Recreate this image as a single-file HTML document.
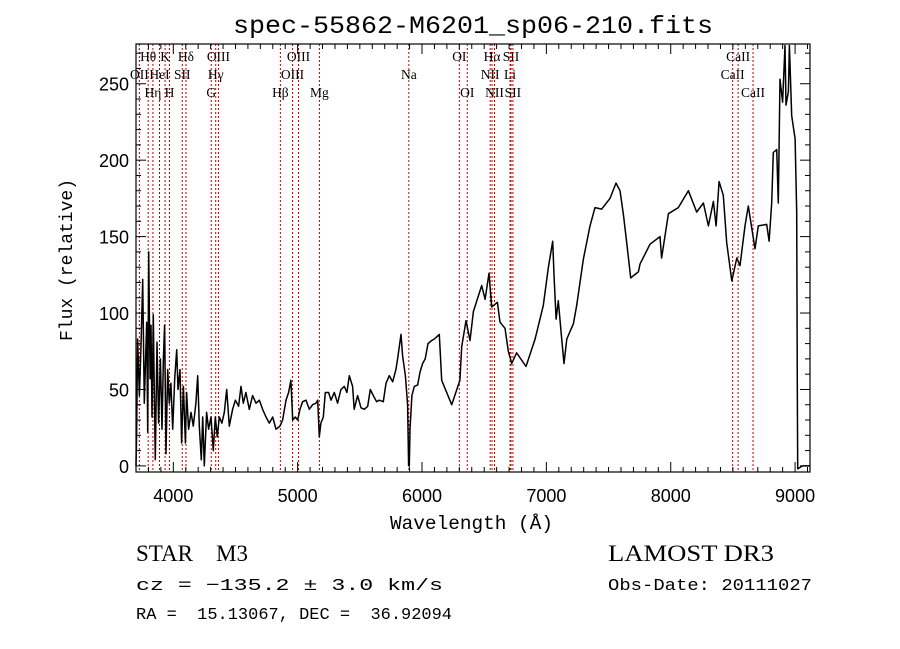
<!DOCTYPE html>
<html><head><meta charset="utf-8"><style>
body{margin:0;background:#fff;width:900px;height:649px;overflow:hidden}
svg{display:block}
.mono{font-family:"Liberation Mono",monospace}
.sans{font-family:"Liberation Sans",sans-serif}
.serif{font-family:"Liberation Serif",serif}
</style></head><body>
<svg id="chart" width="900" height="649" viewBox="0 0 900 649">
<text x="233" y="33" textLength="480" lengthAdjust="spacingAndGlyphs" class="mono" font-size="25">spec-55862-M6201_sp06-210.fits</text>
<g id="lines"></g>
<g id="spec"></g>
<rect x="136" y="44" width="674" height="428" fill="none" stroke="#000" stroke-width="1.2"/>
<g id="axes"></g>
<text x="390" y="529" textLength="163" lengthAdjust="spacingAndGlyphs" class="mono" font-size="19">Wavelength (Å)</text>
<text transform="translate(72,260) rotate(-90)" text-anchor="middle" class="mono" font-size="18">Flux (relative)</text>
<text x="136" y="561" textLength="112" lengthAdjust="spacingAndGlyphs" class="serif" font-size="23" xml:space="preserve">STAR    M3</text>
<text x="136" y="590" textLength="307" lengthAdjust="spacingAndGlyphs" class="mono" font-size="17">cz = −135.2 ± 3.0 km/s</text>
<text x="136" y="619" textLength="316" lengthAdjust="spacingAndGlyphs" class="mono" font-size="17" xml:space="preserve">RA =  15.13067, DEC =  36.92094</text>
<text x="608" y="561" textLength="166" lengthAdjust="spacingAndGlyphs" class="serif" font-size="23">LAMOST DR3</text>
<text x="608" y="590" textLength="204" lengthAdjust="spacingAndGlyphs" class="mono" font-size="17">Obs-Date: 20111027</text>
</svg>
<script>
const wave=[3700,3705,3713,3727,3740,3754,3767,3786,3794,3802,3813,3821,3829,3839,3847,3855,3869,3882,3896,3909,3920,3930,3941,3955,3968,3981,3995,4011,4027,4038,4054,4067,4081,4097,4107,4123,4142,4161,4182,4196,4209,4225,4236,4249,4268,4284,4303,4322,4338,4354,4370,4391,4410,4429,4450,4477,4499,4525,4544,4563,4584,4611,4638,4665,4692,4718,4745,4772,4799,4826,4858,4879,4906,4927,4946,4960,4981,5000,5019,5040,5067,5094,5120,5147,5161,5174,5187,5206,5222,5249,5268,5295,5321,5348,5375,5396,5415,5442,5455,5482,5509,5536,5563,5584,5608,5635,5656,5689,5710,5737,5764,5790,5804,5831,5844,5866,5884,5892,5898,5903,5919,5938,5965,5983,6005,6026,6048,6078,6099,6139,6158,6239,6305,6319,6354,6386,6413,6480,6507,6539,6560,6606,6627,6667,6694,6721,6761,6836,6909,6975,7016,7051,7061,7078,7096,7123,7142,7164,7217,7244,7297,7351,7391,7445,7512,7560,7592,7619,7646,7678,7740,7753,7833,7914,7927,7981,8061,8142,8209,8263,8303,8343,8365,8389,8423,8450,8491,8531,8557,8597,8624,8678,8704,8772,8791,8812,8825,8852,8865,8879,8900,8919,8927,8946,8954,8973,9000,9013,9018,9021,9060,9120];
const flux=[0,20,83,46,78,122,41,94,22,140,57,92,32,99,48,4,81,28,70,24,70,92,8,63,41,54,24,57,76,50,63,15,52,15,48,24,35,26,41,59,26,4,32,0,35,24,32,10,32,19,32,28,35,50,26,37,43,39,52,41,48,37,46,41,43,37,32,28,32,24,26,30,43,48,56,30,32,30,37,42,43,37,40,41,43,19,28,32,48,48,43,48,41,50,52,48,59,52,37,46,38,37,39,50,46,42,43,42,54,59,55,63,70,86,72,59,40,0,0,24,46,52,53,61,67,70,80,82,83,86,56,40,56,78,95,82,101,118,109,126,104,107,94,90,75,67,74,65,83,105,130,147,125,96,108,83,67,83,93,105,135,157,169,168,175,185,180,165,146,123,127,132,145,150,136,165,169,180,166,172,157,173,157,186,177,146,121,136,131,157,170,142,157,158,147,172,205,207,172,253,238,275,236,245,275,229,214,166,52,-2,0,0];
const lineWaves=[3727,3798,3836,3889,3934,3969,4072,4102,4305,4341,4363,4861,4959,5007,5175,5894,6300,6364,6548,6563,6583,6708,6716,6731,8498,8542,8662];
const lineNames=["OII","Hθ","Hη","HeI","K","H","SII","Hδ","G","Hγ","OIII","Hβ","OIII","OIII","Mg","Na","OI","OI","NII","Hα","NII","Li","SII","SII","CaII","CaII","CaII"];
const lineRows=[1,0,2,1,0,2,1,0,2,1,0,2,1,0,2,1,0,2,1,0,2,1,0,2,1,0,2];
const xTicks=[4000,5000,6000,7000,8000,9000];
const yTicks=[0,50,100,150,200,250];
const NS="http://www.w3.org/2000/svg";
const X0=3700,X1=9120,Y0=-4,Y1=276;
const L=136,R=810,T=44,B=472;
const sx=w=>L+(w-X0)/(X1-X0)*(R-L);
const sy=f=>B-(f-Y0)/(Y1-Y0)*(B-T);
const clampY=y=>Math.max(T,Math.min(B,y));
function mk(tag,attrs,parent){const e=document.createElementNS(NS,tag);for(const k in attrs)e.setAttribute(k,attrs[k]);parent.appendChild(e);return e;}
const lg=document.getElementById('lines');
lineWaves.forEach((w,i)=>{
  const x=sx(w);
  const l=mk('line',{x1:x,x2:x,y1:T,y2:B,stroke:'#c00000','stroke-width':1,'stroke-dasharray':'2,2'},lg);
  
  
  const t=mk('text',{x:x,y:61+lineRows[i]*18,'text-anchor':'middle','font-size':13.5,class:'serif'},lg);
  t.textContent=lineNames[i];
  
  
});
const sg=document.getElementById('spec');
const pts=wave.map((w,i)=>sx(w).toFixed(1)+','+clampY(sy(flux[i])).toFixed(1)).join(' ');
const pl=mk('polyline',{points:pts,fill:'none',stroke:'#000','stroke-width':1.5,'stroke-linejoin':'round'},sg);


const ag=document.getElementById('axes');
for(let w=3700;w<=X1;w+=100){const x=sx(w);const big=w%1000===0;
  mk('line',{x1:x,x2:x,y1:B,y2:B-(big?10:5),stroke:'#000'},ag);
  mk('line',{x1:x,x2:x,y1:T,y2:T+(big?10:5),stroke:'#000'},ag);}
for(let f=0;f<=270;f+=10){const y=sy(f);const big=f%50===0;
  mk('line',{x1:L,x2:L+(big?10:5),y1:y,y2:y,stroke:'#000'},ag);
  mk('line',{x1:R,x2:R-(big?10:5),y1:y,y2:y,stroke:'#000'},ag);}
xTicks.forEach(v=>{const t=mk('text',{x:sx(v),y:502,'text-anchor':'middle','font-size':18,class:'sans'},ag);t.textContent=v;
  
  });
yTicks.forEach(v=>{const t=mk('text',{x:129,y:sy(v)+7,'text-anchor':'end','font-size':18,class:'sans'},ag);t.textContent=v;
  
  });
</script>
</body></html>
